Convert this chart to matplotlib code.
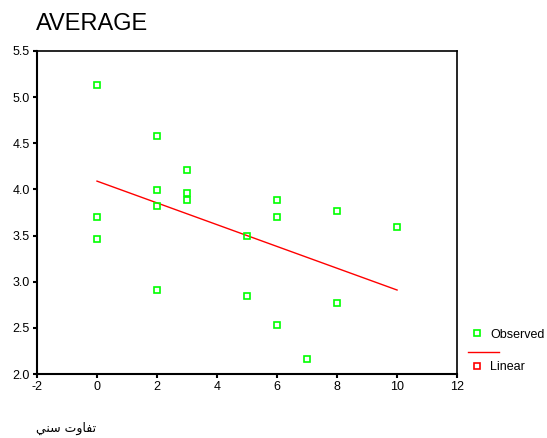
import matplotlib.pyplot as plt
from matplotlib.lines import Line2D

# Observed values (x = age difference, y = average)
obs_x = [0, 0, 0, 2, 2, 2, 2, 3, 3, 3, 5, 5, 6, 6, 6, 7, 8, 8, 10]
obs_y = [5.13, 3.70, 3.46, 4.58, 3.99, 3.82, 2.91, 4.21, 3.96, 3.89,
         3.49, 2.85, 3.89, 3.70, 2.53, 2.16, 3.77, 2.77, 3.59]

# Linear fit end points
fit_x = [0, 10]
fit_y = [4.09, 2.91]

x_ticks = [-2, 0, 2, 4, 6, 8, 10, 12]
y_ticks = [2.0, 2.5, 3.0, 3.5, 4.0, 4.5, 5.0, 5.5]

# x label shaped for display (Arabic presentation forms, visual order)
x_label = "\uFEF2\uFEE8\uFEB3 \uFE95\uFEED\uFE8E\uFED4\uFE97"

GREEN = "#00ff00"
RED = "#ff0000"

plt.rcParams["font.family"] = ["Liberation Sans", "DejaVu Sans"]

fig = plt.figure(figsize=(5.47, 4.38), dpi=100)
ax = fig.add_axes([0.0676, 0.1461, 0.768, 0.7375])

ax.plot(fit_x, fit_y, color=RED, linewidth=1.0)
ax.plot(obs_x, obs_y, linestyle="none", marker="s", markersize=5,
        markerfacecolor="none", markeredgecolor=GREEN, markeredgewidth=1.2)

ax.set_xlim(-2, 12)
ax.set_ylim(2.0, 5.5)
ax.set_xticks(x_ticks)
ax.set_yticks(y_ticks)
ax.set_xticklabels([str(t) for t in x_ticks])
ax.set_yticklabels([f"{t:.1f}" for t in y_ticks])
ax.tick_params(direction="out", length=3, width=1.5, labelsize=9, pad=2)

for side in ["left", "bottom"]:
    ax.spines[side].set_linewidth(1.5)
for side in ["top", "right"]:
    ax.spines[side].set_linewidth(1.2)

fig.text(0.066, 1 - 30 / 438, "AVERAGE", fontsize=17, ha="left",
         va="baseline")
fig.text(0.066, 0.023, x_label, fontsize=9, ha="left", va="center",
         family=["DejaVu Sans"])

# legend drawn in SPSS style
fig.add_artist(Line2D([477 / 547], [1 - 333 / 438], marker="s", markersize=5,
                      markerfacecolor="none", markeredgecolor=GREEN,
                      markeredgewidth=1.2, transform=fig.transFigure))
fig.text(490 / 547, 1 - 335 / 438, "Observed", fontsize=9, va="center")
fig.add_artist(Line2D([468 / 547, 499 / 547], [1 - 352 / 438] * 2,
                      color=RED, linewidth=1.0, transform=fig.transFigure))
fig.add_artist(Line2D([477 / 547], [1 - 366 / 438], marker="s", markersize=5,
                      markerfacecolor="none", markeredgecolor=RED,
                      markeredgewidth=1.2, transform=fig.transFigure))
fig.text(490 / 547, 1 - 367 / 438, "Linear", fontsize=9, va="center")

fig.savefig("out.png", dpi=100)
